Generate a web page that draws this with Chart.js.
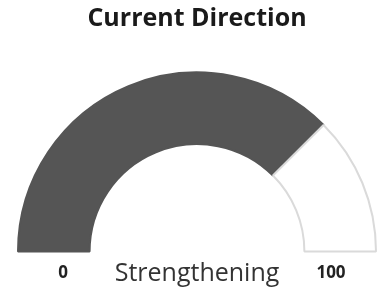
<!DOCTYPE html>
<html>
<head>
<meta charset="utf-8">
<script src="https://cdn.jsdelivr.net/npm/chart.js@4"></script>
<style>
  html, body { margin: 0; padding: 0; background: #fff; }
  #wrap { width: 383px; height: 293px; position: relative; }
</style>
</head>
<body>
<div id="wrap"><canvas id="gauge"></canvas></div>
<script>
const chartTitle = 'Current Direction';
const segmentNames = ['Current', 'Remaining'];
const segmentValues = [75, 25];
const segmentColors = ['#555555', '#ffffff'];
const scaleTicks = ['0', '100'];
const statusText = 'Strengthening';

// labels under the gauge: min / max at the ends, status in the middle
const gaugeLabels = {
    id: 'gaugeLabels',
    afterDraw(chart) {
        const arc = chart.getDatasetMeta(0).data[0];
        if (!arc) return;
        const { x, y } = arc.getProps(['x', 'y'], true);
        const ctx = chart.ctx;
        ctx.save();
        ctx.textAlign = 'center';
        ctx.textBaseline = 'middle';
        ctx.fillStyle = '#222';
        ctx.font = 'bold 17px "Open Sans"';
        ctx.fillText(scaleTicks[0], x - 134, y + 22);
        ctx.fillText(scaleTicks[1], x + 134, y + 22);
        ctx.fillStyle = '#333';
        ctx.font = '25px "Open Sans"';
        ctx.fillText(statusText, x, y + 22);
        ctx.restore();
    }
};

new Chart(document.getElementById('gauge'), {
    type: 'doughnut',
    data: {
        labels: segmentNames,
        datasets: [{
            data: segmentValues,
            backgroundColor: segmentColors,
            borderColor: ['#555555', '#dadada'],
            borderWidth: 2
        }]
    },
    options: {
        responsive: true,
        maintainAspectRatio: false,
        animation: false,
        rotation: -90,
        circumference: 180,
        cutout: '60%',
        layout: { padding: { top: 0, bottom: 40, left: 17, right: 6 } },
        plugins: {
            legend: { display: false },
            tooltip: { enabled: false },
            title: {
                display: true,
                text: chartTitle,
                color: '#1a1a1a',
                font: { family: '"Open Sans"', size: 25, weight: 'bold' },
                padding: { top: 4, bottom: 37 }
            }
        }
    },
    plugins: [gaugeLabels]
});
</script>
</body>
</html>
